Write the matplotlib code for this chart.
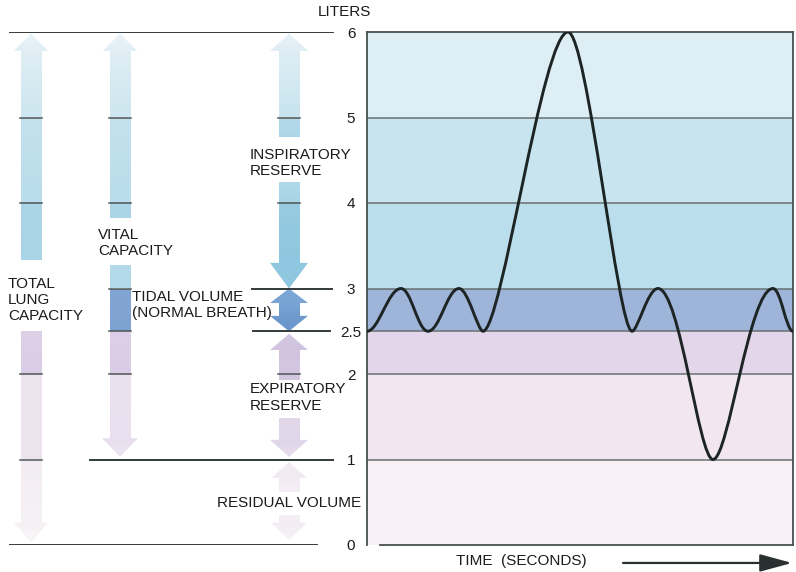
import matplotlib
matplotlib.use("Agg")
import matplotlib.pyplot as plt
import numpy as np
from matplotlib.colors import LinearSegmentedColormap
from matplotlib.patches import Polygon, PathPatch
from matplotlib.path import Path

plt.rcParams["font.family"] = ["Liberation Sans", "DejaVu Sans"]

# ======================= Data ==========================
# lung volume boundaries (liters) and band colours between them
levels = [0, 1, 2, 2.5, 3, 4, 5, 6]
level_labels = ["0", "1", "2", "2.5", "3", "4", "5", "6"]
band_colors = ["#f8f0f5", "#f2e6f0", "#e4d6ea", "#9eb4d8",
               "#badeeb", "#c7e4ef", "#ddeef5"]

# spirometer trace: turning points (time, liters) and how round each one is
breath_t = [0, 3.4, 6.1, 9.2, 11.6, 20.1, 26.5, 29.1, 34.6, 40.6, 42.6]
breath_v = [2.5, 3.0, 2.5, 3.0, 2.5, 6.0, 2.5, 3.0, 1.0, 3.0, 2.5]
breath_k = [0.35, 0.38, 0.38, 0.38, 0.22, 0.3, 0.22, 0.4, 0.26, 0.4, 0.35]

# ======================= Layout ==========================
W, H = 796, 572
px0, px6 = 545, 32          # pixel rows of 0 L and 6 L
fig = plt.figure(figsize=(W / 100, H / 100), dpi=100)
bot = (H - px0) / H
hgt = (px0 - px6) / H
ax_l = fig.add_axes([0, bot, 367 / W, hgt])
ax = fig.add_axes([367 / W, bot, 426 / W, hgt])

TXT = dict(fontsize=11, color="#1b1b1b")

# ------------------- right panel: bands + trace ---------------------
for lo, hi, c in zip(levels[:-1], levels[1:], band_colors):
    ax.axhspan(lo, hi, color=c, lw=0, zorder=0)
for lv in levels[1:-1]:
    ax.axhline(lv, color="#687171", lw=1.1, zorder=1)

verts = [(breath_t[0], breath_v[0])]
codes = [Path.MOVETO]
for i in range(len(breath_t) - 1):
    dt = breath_t[i + 1] - breath_t[i]
    ka, kb = breath_k[i], breath_k[i + 1]
    verts += [(breath_t[i] + ka * dt, breath_v[i]),
              (breath_t[i + 1] - kb * dt, breath_v[i + 1]),
              (breath_t[i + 1], breath_v[i + 1])]
    codes += [Path.CURVE4] * 3
ax.add_patch(PathPatch(Path(verts, codes), fill=False, edgecolor="#1c2424",
                       lw=2.1, capstyle="round", joinstyle="round", zorder=3))

ax.set_xlim(0, 42.6)
ax.set_ylim(0, 6)
ax.set_xticks([])
ax.set_yticks(levels, level_labels)
ax.tick_params(axis="y", length=0, pad=11.5, labelsize=11, labelcolor="#1b1b1b")
for lbl in ax.get_yticklabels():
    lbl.set_horizontalalignment("center")
for s in ["left", "right", "top", "bottom"]:
    ax.spines[s].set_color("#465050")
    ax.spines[s].set_linewidth(1.3)
ax.spines["bottom"].set_bounds(1.3, 42.6)

ax.text(15.4, -0.19, "TIME  (SECONDS)", ha="center", va="center", **TXT)
ax.annotate("", xy=(42.5, -0.21), xytext=(25.6, -0.21), annotation_clip=False,
            arrowprops=dict(arrowstyle="-|>,head_length=1.1,head_width=0.3",
                            mutation_scale=18, color="#2a3030", lw=1.6,
                            shrinkA=0, shrinkB=0))


# ------------------- left panel: volume arrows ---------------------
def grad_poly(verts, c_top, c_bot):
    poly = Polygon(verts, closed=True, facecolor="none", edgecolor="none")
    ax_l.add_patch(poly)
    xs = [v[0] for v in verts]
    ys = [v[1] for v in verts]
    cmap = LinearSegmentedColormap.from_list("g", [c_bot, c_top])
    im = ax_l.imshow(np.linspace(0, 1, 64).reshape(-1, 1), cmap=cmap,
                     extent=(min(xs), max(xs), min(ys), max(ys)),
                     origin="lower", aspect="auto", zorder=2)
    im.set_clip_path(poly)


def shaft(xc, y0, y1, c_top, c_bot, w=21):
    top, low = max(y0, y1), min(y0, y1)
    grad_poly([(xc - w / 2, low), (xc + w / 2, low),
               (xc + w / 2, top), (xc - w / 2, top)], c_top, c_bot)


def head(xc, ybase, ytip, c_top, c_bot, w=36):
    grad_poly([(xc - w / 2, ybase), (xc + w / 2, ybase), (xc, ytip)], c_top, c_bot)


def tick(xc, y, w=22):
    ax_l.plot([xc - w / 2, xc + w / 2], [y, y], color="#4d5555", lw=1.1, zorder=3)


# column 1: total lung capacity
c1 = 31
head(c1, 5.78, 5.98, "#ebf4f8", "#e0eef4", w=34)
shaft(c1, 5.78, 5.0, "#e0eef4", "#cde6f0")
shaft(c1, 5.0, 4.0, "#c3e1ed", "#b9ddeb")
shaft(c1, 4.0, 3.33, "#acd6e7", "#a9d4e6")
shaft(c1, 2.5, 2.0, "#ddd1e7", "#d9cce5")
shaft(c1, 2.0, 1.0, "#ede4ef", "#ece3ef")
shaft(c1, 1.0, 0.26, "#f3edf3", "#f6f1f5")
head(c1, 0.26, 0.03, "#f5f0f4", "#f9f6f8", w=34)
for lv in [5, 4, 2, 1]:
    tick(c1, lv)

# column 2: vital capacity
c2 = 120
head(c2, 5.78, 5.98, "#ebf4f8", "#e0eef4", w=34)
shaft(c2, 5.78, 5.0, "#e0eef4", "#cde6f0")
shaft(c2, 5.0, 4.0, "#c3e1ed", "#b9ddeb")
shaft(c2, 4.0, 3.82, "#acd6e7", "#a9d4e6")
shaft(c2, 3.27, 3.0, "#b5dbea", "#b3daea")
shaft(c2, 3.0, 2.5, "#82a5d4", "#7ea2d2")
shaft(c2, 2.5, 2.0, "#ddcfe7", "#dacce5")
shaft(c2, 2.0, 1.25, "#ebe2ef", "#e9dfee")
head(c2, 1.25, 1.03, "#e8deee", "#ede6f1", w=36)
for lv in [5, 4, 3, 2.5, 2]:
    tick(c2, lv)

# column 3: inspiratory / tidal / expiratory / residual
c3 = 289
head(c3, 5.78, 5.98, "#e9f3f8", "#deedf4", w=38)
shaft(c3, 5.78, 5.0, "#deedf4", "#c8e4ef")
shaft(c3, 5.0, 4.77, "#b3d9e9", "#acd6e7")
shaft(c3, 4.25, 4.0, "#b0d8e8", "#a9d4e6")
shaft(c3, 4.0, 3.3, "#97cbe1", "#8ec7df")
head(c3, 3.3, 3.0, "#8ec7df", "#8fc8e0", w=38)
head(c3, 2.83, 3.0, "#7eaad9", "#78a4d5", w=38)
shaft(c3, 2.83, 2.68, "#78a4d5", "#6f9bcf")
head(c3, 2.68, 2.5, "#6e9ace", "#6a97cc", w=38)
head(c3, 2.28, 2.47, "#d4c7e2", "#d2c4e1", w=38)
shaft(c3, 2.28, 1.93, "#d2c4e1", "#d4c7e2")
shaft(c3, 1.49, 1.23, "#e2d8ea", "#e0d5e9")
head(c3, 1.23, 1.03, "#e0d5e9", "#e6ddee", w=38)
head(c3, 0.78, 0.97, "#f3edf3", "#f1eaf1", w=36)
shaft(c3, 0.78, 0.62, "#f2ebf2", "#f5f0f5")
shaft(c3, 0.35, 0.26, "#f5f0f5", "#f3edf3")
head(c3, 0.26, 0.06, "#f3edf3", "#f7f3f6", w=36)
for lv in [5, 4, 2]:
    tick(c3, lv)

# level lines reaching into the left panel
LINE = dict(color="#323a3a", lw=1.4, zorder=4)
ax_l.plot([10, 333], [6, 6], **LINE)
ax_l.plot([252, 332], [3, 3], **LINE)
ax_l.plot([253, 330], [2.5, 2.5], **LINE)
ax_l.plot([90, 333], [1, 1], **LINE)
ax_l.plot([10, 317], [0, 0], **LINE)

ax_l.text(8, 2.865, "TOTAL\nLUNG\nCAPACITY", ha="left", va="center", **TXT)
ax_l.text(98, 3.53, "VITAL\nCAPACITY", ha="left", va="center", **TXT)
ax_l.text(132, 2.81, "TIDAL VOLUME\n(NORMAL BREATH)", ha="left", va="center", **TXT)
ax_l.text(250, 4.47, "INSPIRATORY\nRESERVE", ha="left", va="center", **TXT)
ax_l.text(250, 1.725, "EXPIRATORY\nRESERVE", ha="left", va="center", **TXT)
ax_l.text(217, 0.49, "RESIDUAL VOLUME", ha="left", va="center", **TXT)
ax_l.text(344, 6.23, "LITERS", ha="center", va="center", **TXT)

ax_l.set_xlim(0, 367)
ax_l.set_ylim(0, 6)
ax_l.axis("off")

fig.savefig("out.png", dpi=100, facecolor="white")
